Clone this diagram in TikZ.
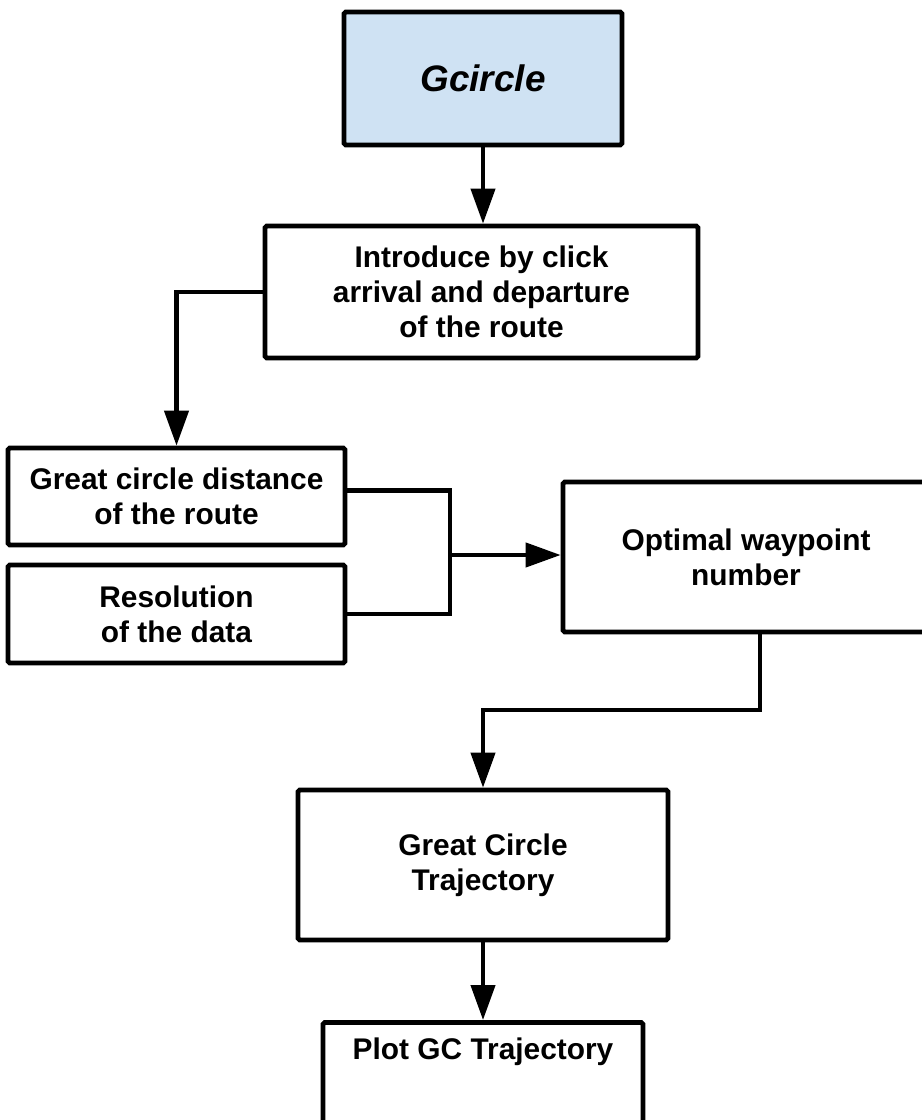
\documentclass[tikz,border=0pt]{standalone}
\usepackage{fontspec}
\setmainfont{Liberation Sans}
\usepackage{xcolor}
\usepackage{tikz}
\usetikzlibrary{arrows.meta,positioning,calc}
\definecolor{gcblue}{RGB}{207,226,243}
\newcommand{\boxfont}{\fontsize{17}{20}\selectfont\bfseries}
\tikzset{
  box/.style={rectangle, rounded corners=1pt, draw=black, fill=#1,
              line width=2.7pt, font=\boxfont, text centered, align=center},
  box/.default=white,
  link/.style={line width=2.4pt, #1},
  link/.default=black,
  arr/.style={-{Triangle[length=0.7cm, width=0.48cm]}, line width=2.4pt, #1},
  arr/.default=black,
}

\begin{document}
\begin{tikzpicture}[x=0.02cm, y=-0.02cm]
        % Page
        \fill[white] (0,0) rectangle (922,1120);
        \clip (0,0) rectangle (922,1120);

        % Boxes
        \node[box=gcblue, minimum width=5.56cm, minimum height=2.66cm,
              font=\fontsize{21}{25}\selectfont\bfseries\itshape] (gc) at (483,78.5) {Gcircle};
        \node[box, minimum width=8.66cm, minimum height=2.64cm] (intro) at (481.5,292)
              {Introduce by click\\arrival and departure\\of the route};
        \node[box, minimum width=6.74cm, minimum height=1.94cm] (gcd) at (176.5,496.5)
              {Great circle distance\\of the route};
        \node[box, minimum width=6.74cm, minimum height=1.96cm] (res) at (176.5,614)
              {Resolution\\of the data};
        \node[box, minimum width=7.32cm, minimum height=3.0cm] (opt) at (746,557)
              {Optimal waypoint\\number};
        \node[box, minimum width=7.4cm, minimum height=3.0cm] (gct) at (483,865)
              {Great Circle\\Trajectory};
        \node[box, minimum width=6.4cm, inner sep=0pt, text height=0.74cm, text depth=2cm,
              anchor=north] (plot) at (483,1020) {Plot GC Trajectory};

        % Bends
        \coordinate (join) at (450,555);
        \coordinate (bend) at (760,710);

        % Arrows
        \draw[arr] (gc.south) -- (gc.south |- intro.north);
        \draw[arr] (intro.west) -| (gcd.north);
        \draw[link] ($(gcd.east)+(0,-6)$) -| (join) |- (res.east);
        \draw[arr] (join) -- (opt.west |- join);
        \draw[arr] (opt.south -| bend) -- (bend) -| (gct.north);
        \draw[arr] (gct) -- (plot);
      \end{tikzpicture}
\end{document}
